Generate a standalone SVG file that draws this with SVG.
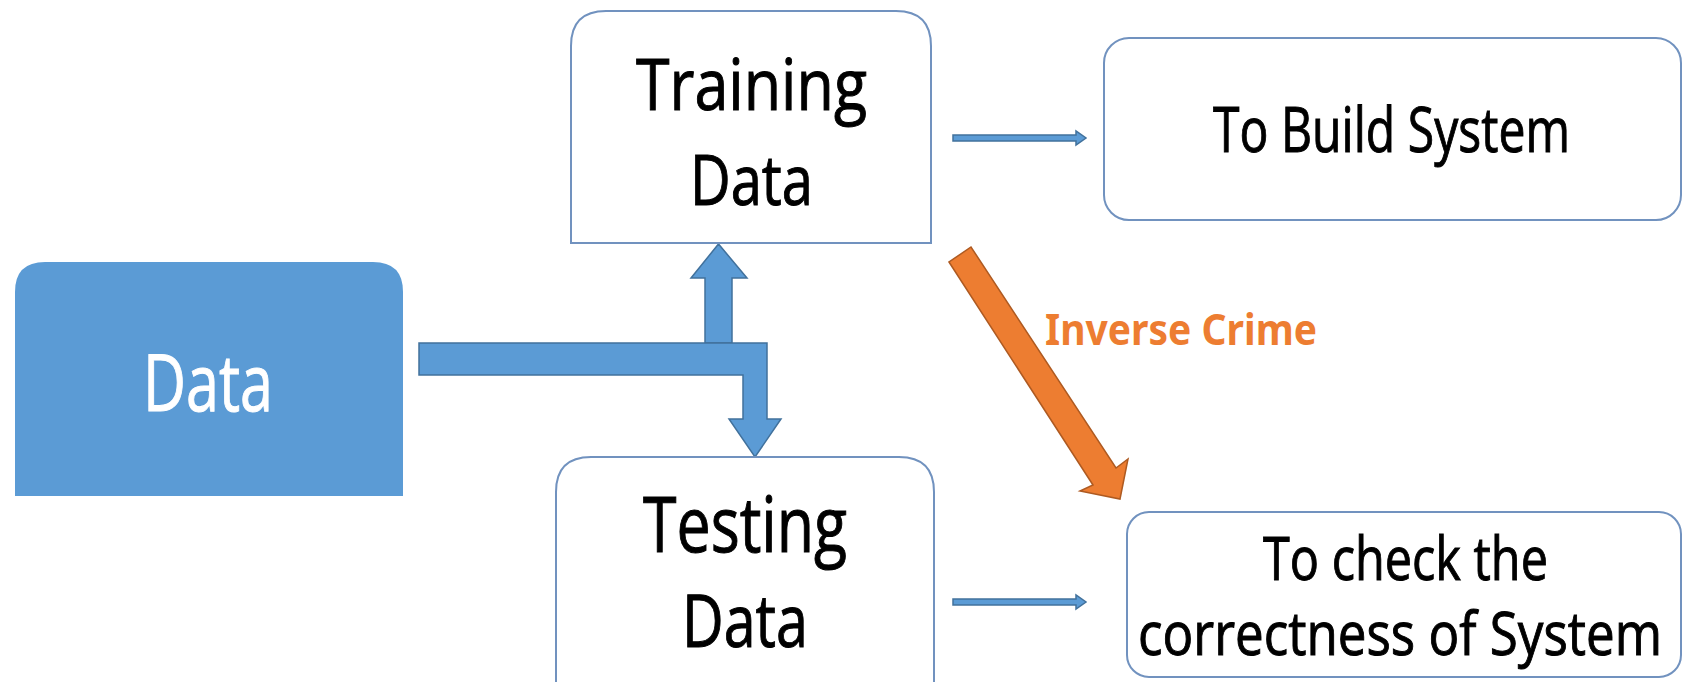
<svg xmlns="http://www.w3.org/2000/svg" width="1684" height="682" viewBox="0 0 1684 682">
<style>
.box{fill:#ffffff;stroke:#7192bf;stroke-width:2}
.lbl{font-family:"Open Sans","Liberation Sans",sans-serif;fill:#000000;stroke:#000000;stroke-width:1;text-anchor:middle}
.blue{fill:#5b9bd5;stroke:#41719c;stroke-width:1.5;stroke-linejoin:miter}
.orange{fill:#ed7d31;stroke:#ae5a21;stroke-width:1.5}
</style>
<rect width="1684" height="682" fill="#ffffff"/>
<g id="connectors">
  <polygon class="blue" points="705,343 705,278 691,278 718.5,244 747,278 732,278 732,343"/>
  <polygon class="blue" points="419,343 767,343 767,419 781,419 755,457 729,419 743,419 743,375 419,375"/>
  <polygon class="blue" points="953,135 1076,135 1076,131 1086,138 1076,145 1076,141 953,141"/>
  <polygon class="blue" points="953,599 1076,599 1076,595 1086,602 1076,609 1076,605 953,605"/>
  <polygon class="orange" points="949,262 1093,485 1080,491 1120,499 1128,459 1116,468 971,247"/>
  <text x="1181" y="345" font-family="'Noto Sans','Open Sans',sans-serif" font-weight="bold" font-size="43" fill="#ed7d31" text-anchor="middle" textLength="272" lengthAdjust="spacingAndGlyphs">Inverse Crime</text>
</g>
<g id="data">
  <path d="M15,496 L15,292 Q15,262 45,262 L373,262 Q403,262 403,292 L403,496 Z" fill="#5b9bd5"/>
  <text class="lbl" x="208" y="411" font-size="78" style="fill:#ffffff;stroke:#ffffff" textLength="130" lengthAdjust="spacingAndGlyphs">Data</text>
</g>
<g id="training">
  <path class="box" d="M571,243 L571,46 Q571,11 606,11 L896,11 Q931,11 931,46 L931,243 Z"/>
  <text class="lbl" x="751.5" y="110" font-size="72" textLength="231" lengthAdjust="spacingAndGlyphs">Training</text>
  <text class="lbl" x="751.5" y="205" font-size="70" textLength="123" lengthAdjust="spacingAndGlyphs">Data</text>
</g>
<g id="testing">
  <path class="box" d="M556,690 L556,492 Q556,457 591,457 L899,457 Q934,457 934,492 L934,690"/>
  <text class="lbl" x="745" y="552" font-size="76" textLength="204" lengthAdjust="spacingAndGlyphs">Testing</text>
  <text class="lbl" x="745" y="647" font-size="74" textLength="126" lengthAdjust="spacingAndGlyphs">Data</text>
</g>
<g id="build">
  <rect class="box" x="1104" y="38" width="577" height="182" rx="25" ry="25"/>
  <text class="lbl" x="1391.5" y="152" font-size="63" textLength="357" lengthAdjust="spacingAndGlyphs">To Build System</text>
</g>
<g id="check">
  <rect class="box" x="1127" y="512" width="554" height="165" rx="22" ry="22"/>
  <text class="lbl" x="1405.5" y="580" font-size="61" textLength="285" lengthAdjust="spacingAndGlyphs">To check the</text>
  <text class="lbl" x="1400" y="655" font-size="61" textLength="524" lengthAdjust="spacingAndGlyphs">correctness of System</text>
</g>
</svg>
